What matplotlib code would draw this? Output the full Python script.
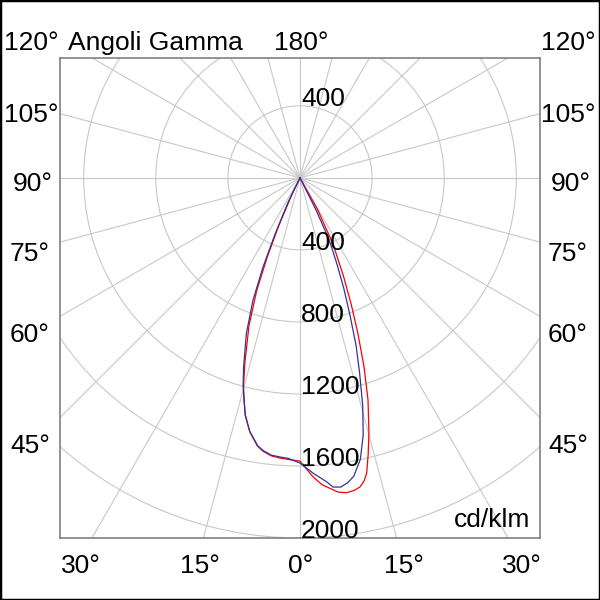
import numpy as np
import matplotlib
matplotlib.use("Agg")
import matplotlib.pyplot as plt
from matplotlib.patches import Circle, Rectangle

plt.rcParams['font.family'] = ['Liberation Sans', 'DejaVu Sans']

# angoli gamma (gradi) e intensita' (cd/klm), lette dal grafico
# semipiano destro
gamma_blue_r = [0, 2.6, 5.0, 6.1, 7.5, 8.9, 10.2, 12.1, 13.8, 15.4, 17.0, 18.5, 20.0, 21.6, 23.2, 25.2, 26.5, 28]
blue_r = [1584, 1643, 1694, 1727, 1732, 1713, 1684, 1598, 1470, 1310, 1130, 980, 810, 660, 520, 380, 200, 0]
gamma_red_r = [0, 2.5, 4.1, 5.5, 6.9, 8.4, 9.8, 11.0, 11.9, 12.7, 13.8, 15.1, 17.0, 18.7, 20.4, 22.0, 23.8,
               26.5, 29.0, 31]
red_r = [1573, 1662, 1708, 1732, 1758, 1767, 1762, 1748, 1721, 1682, 1585, 1468, 1291, 1108, 921, 760, 600,
         410, 200, 0]
# semipiano sinistro
gamma_left = [0, 2.4, 4.1, 5.9, 7.7, 9.0, 11.2, 13.0, 14.1, 15.2, 16.6, 19.0, 21.0, 22.5, 23.9, 26, 28]
blue_l = [1584, 1559, 1554, 1548, 1528, 1505, 1435, 1350, 1273, 1204, 1095, 914, 728, 536, 339, 150, 0]
red_l = [1573, 1565, 1560, 1552, 1532, 1508, 1437, 1352, 1273, 1195, 1070, 870, 670, 470, 290, 100, 0]

rings = [400, 800, 1200, 1600, 2000]
spoke_step = 15

BLUE = '#33339a'
RED = '#ff0000'
GRID = '#c8c8c8'
FS = 19


def curve(gl, rl, gr, rr):
    gl = -np.radians(np.array(gl))[::-1]
    rl = np.array(rl, dtype=float)[::-1]
    gr = np.radians(np.array(gr))
    rr = np.array(rr, dtype=float)
    th = np.concatenate([gl, gr])
    r = np.concatenate([rl, rr])
    return r * np.sin(th), -r * np.cos(th)


fig = plt.figure(figsize=(6, 6), dpi=100)
ax = fig.add_axes([60 / 600, 62 / 600, 480 / 600, 480 / 600])
s = 2000 / 360.5
ax.set_xlim(-240 * s, 240 * s)
ax.set_ylim(-2000, 120 * s)
ax.set_xticks([])
ax.set_yticks([])
for sp in ax.spines.values():
    sp.set_color('#808080')
    sp.set_linewidth(1.2)

# griglia polare
for rv in rings:
    ax.add_patch(Circle((0, 0), rv, fill=False, ec=GRID, lw=0.8, zorder=1))
for a in range(0, 360, spoke_step):
    t = np.radians(a)
    ax.plot([0, 4000 * np.sin(t)], [0, -4000 * np.cos(t)], color=GRID, lw=0.8, zorder=1)

xr, yr = curve(gamma_left, red_l, gamma_red_r, red_r)
xb, yb = curve(gamma_left, blue_l, gamma_blue_r, blue_r)
ax.plot(xr, yr, color=RED, lw=0.9, zorder=3, solid_joinstyle='round')
ax.plot(xb, yb, color=BLUE, lw=0.9, zorder=4, solid_joinstyle='round')

# etichette radiali
ax.text(6, rings[0], '%d' % rings[0], fontsize=FS, ha='left', va='baseline', zorder=5)
for rv in rings:
    ax.text(6, -rv, '%d' % rv, fontsize=FS, ha='left', va='baseline', zorder=5)
ax.text(0.98, 0.012, 'cd/klm', transform=ax.transAxes, fontsize=FS, ha='right', va='bottom')


def ftext(x, y, txt, ha='center'):
    fig.text(x / 600, 1 - y / 600, txt, fontsize=FS, ha=ha, va='baseline')


side_labels = ['120°', '105°', '90°', '75°', '60°', '45°']
side_y = [50, 121.5, 191, 261, 342.5, 453]
side_xl = [31, 31, 33, 30, 30, 30]
side_xr = [568, 568, 571, 568, 568, 568]
for lab, y, xl, xr_ in zip(side_labels, side_y, side_xl, side_xr):
    ftext(xl, y, lab)
    ftext(xr_, y, lab)

bottom_labels = ['30°', '15°', '0°', '15°', '30°']
bottom_x = [81, 200, 301, 404, 522]
for lab, x in zip(bottom_labels, bottom_x):
    ftext(x, 573, lab)

ftext(301, 50, '180°')
ftext(68, 50, 'Angoli Gamma', ha='left')

fig.patches.append(Rectangle((0, 0), 1, 1, transform=fig.transFigure,
                             fill=False, ec='black', lw=2.5))

fig.savefig('out.png', dpi=100)
